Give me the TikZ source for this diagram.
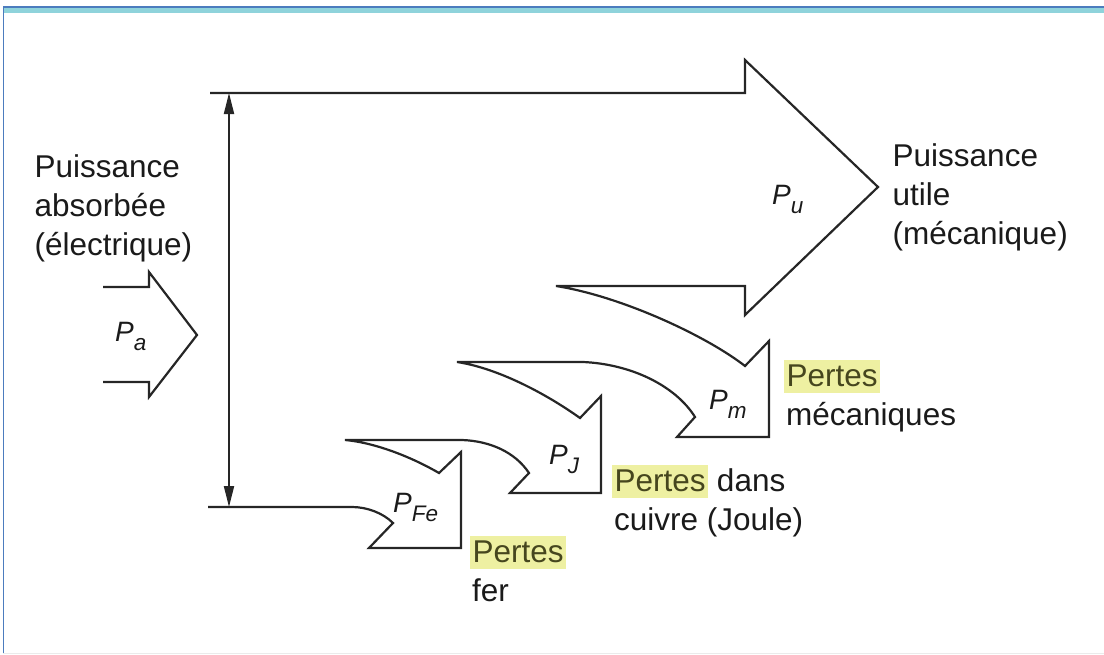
\documentclass[tikz,border=0pt]{standalone}
\usepackage{fontspec}
\setmainfont{Liberation Sans}
\usetikzlibrary{arrows.meta}
\definecolor{ink}{HTML}{262626}
\definecolor{txt}{HTML}{1A1A1A}
\definecolor{hl}{HTML}{EEF0A2}
\definecolor{hltxt}{HTML}{46461E}
\definecolor{frameblue}{HTML}{4C7CBE}
\definecolor{framecyan}{HTML}{8FD3DB}
\newcommand\plbl[1]{{\fontsize{28}{28}\selectfont\itshape P}\raisebox{-9pt}{\fontsize{22.5}{22.5}\selectfont\itshape #1}}
\newcommand\hlword[1]{{\setlength{\fboxsep}{0pt}\colorbox{hl}{\rule[-7pt]{0pt}{33pt}\kern2.5pt\textcolor{hltxt}{#1}\kern2.5pt}}}
\begin{document}
\begin{tikzpicture}[x=1pt,y=-1pt,
  flow/.style={draw=ink, line width=2.2pt, line join=miter},
  txtline/.style={inner sep=0pt, anchor=base west, text=txt, font=\fontsize{31.5}{39}\selectfont},
  plabel/.style={inner sep=0pt, anchor=base west, text=txt}]
\useasboundingbox (0,0) rectangle (1104,654);
% frame
\fill[framecyan] (3,8) rectangle (1104,12.5);
\draw[frameblue, line width=1.5pt] (3,6.8) -- (1104,6.8);
\draw[frameblue, line width=1.3pt] (3.6,6) -- (3.6,654);
\draw[black!8, line width=0.8pt] (3,653) -- (1104,653);

% key points
\coordinate (topL) at (210,93);
\coordinate (botL) at (208,507);
\coordinate (aTop) at (229,93);
\coordinate (aBot) at (229,507);

% main power flow with losses
\draw[flow] (botL) -- (352,507) .. controls (367,507) and (383,513) .. (393,523)
  -- (369,548) -- (461,548) -- (461,452) -- (439,473)
  .. controls (415,459) and (378,443) .. (345,440)
  -- (462,440) .. controls (490,441) and (515,452) .. (529,473)
  -- (510,493) -- (601,493) -- (601,396) -- (580,418)
  .. controls (545,393) and (497,368) .. (457,362)
  -- (583,362) .. controls (630,364) and (675,385) .. (695,417)
  -- (677,437) -- (769,437) -- (769,341) -- (745,366)
  .. controls (705,335) and (620,296) .. (556,286)
  -- (745,286) -- (745,315) -- (878,187) -- (745,60) -- (745,93) -- (topL);

% input arrow
\draw[flow] (103,287) -- (149,287) -- (149,272) -- (197,335) -- (149,397) -- (149,382) -- (103,382);

% double arrow
\draw[draw=ink, line width=1.9pt, {Triangle[length=21pt,width=10pt]}-{Triangle[length=21pt,width=10pt]}] (aTop) -- (aBot);

% labels
\node[plabel] (Pa) at (115,341) {\plbl{a}};
\node[plabel] (Pu) at (772,204) {\plbl{u}};
\node[plabel] (Pm) at (709,409) {\plbl{m}};
\node[plabel] (PJ) at (549,464) {\plbl{J}};
\node[plabel] (PFe) at (393,512) {\plbl{Fe}};

% texts
\node[txtline] (ta1) at (34.5,177) {Puissance};
\node[txtline] (ta2) at (34.5,216) {absorbée};
\node[txtline] (ta3) at (34.5,255) {(électrique)};
\node[txtline] (tu1) at (892.5,166) {Puissance};
\node[txtline] (tu2) at (892.5,205) {utile};
\node[txtline] (tu3) at (892.5,244) {(mécanique)};
\node[txtline] (tm1) at (784,386) {\hlword{Pertes}};
\node[txtline] (tm2) at (786,425) {mécaniques};
\node[txtline] (tj1) at (612,491) {\hlword{Pertes} dans};
\node[txtline] (tj2) at (614,530) {cuivre (Joule)};
\node[txtline] (tf1) at (470,562) {\hlword{Pertes}};
\node[txtline] (tf2) at (472,601) {fer};
\end{tikzpicture}
\end{document}
